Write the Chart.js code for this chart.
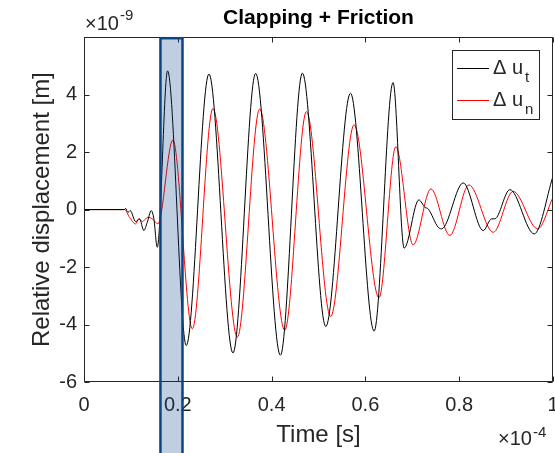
<!DOCTYPE html>
<html>
<head>
<meta charset="utf-8">
<script src="https://cdn.jsdelivr.net/npm/chart.js@4"></script>
<style>
  html, body { margin: 0; padding: 0; background: #fff; }
  #wrap { width: 555px; height: 453px; }
</style>
</head>
<body>
<div id="wrap"><canvas id="chart"></canvas></div>
<script>
// time in units of 1e-4 s, displacement in units of 1e-9 m
const tT = [0, 0.0864, 0.0886, 0.0935, 0.0986, 0.110, 0.1185, 0.1276, 0.1349, 0.1434, 0.149, 0.1562,
  0.1782, 0.218, 0.2664, 0.3176, 0.366, 0.4188, 0.4657, 0.5155, 0.5682, 0.6186, 0.659, 0.6826,
  0.714, 0.7268, 0.7339, 0.7552, 0.7624, 0.8086, 0.8512, 0.869, 0.876, 0.908, 0.960, 1.0];
const uT = [0, 0, 0.045, -0.094, -0.035, -0.417, -0.323, -0.730, -0.441, -0.035, -0.323, -1.31,
  4.83, -4.73, 4.72, -4.99, 4.74, -5.07, 4.75, -4.07, 4.05, -4.23, 4.42, -1.34,
  0.337, 0.08, 0.024, -0.615, -0.67, 0.928, -0.73, -0.323, -0.32, 0.695, -0.845, 1.16];

const tN = [0, 0.0864, 0.0971, 0.110, 0.117, 0.1242, 0.1362, 0.1456, 0.1575,
  0.1895, 0.231, 0.275, 0.327, 0.3746, 0.428, 0.4743, 0.526, 0.5759, 0.629, 0.6649,
  0.7018, 0.7396, 0.780, 0.8207, 0.8726, 0.915, 0.9674, 1.0];
const uN = [0, 0, -0.268, -0.497, -0.323, -0.417, -0.268, -0.323, -0.497,
  2.42, -4.15, 3.52, -4.44, 3.50, -4.20, 3.41, -3.72, 2.95, -3.07, 2.19,
  -1.23, 0.72, -0.90, 0.86, -0.79, 0.636, -0.67, 0.427];

const xTicks = [0, 0.2, 0.4, 0.6, 0.8, 1];
const yTicks = [-6, -4, -2, 0, 2, 4];
const highlight = [0.163, 0.21]; // shaded time window

const seriesNames = ["t", "n"];
const seriesColors = ["#000000", "#ff0000"];

const axisColor = "#262626";
const font = "'Liberation Sans', Arial, Helvetica, sans-serif";

const toPoints = (xs, ys) => xs.map((x, i) => ({ x: x, y: ys[i] }));

// box, inward ticks, legend, exponents, shaded window
const decorations = {
  id: "decorations",
  afterDraw(chart) {
    const ctx = chart.ctx;
    const a = chart.chartArea;
    const xs = chart.scales.x;
    const ys = chart.scales.y;
    const L = Math.round(a.left) + 0.5, R = Math.round(a.right) - 0.5;
    const T = Math.round(a.top) + 0.5, B = Math.round(a.bottom) - 0.5;
    const tick = 5;

    ctx.save();
    ctx.strokeStyle = axisColor;
    ctx.lineWidth = 1;
    ctx.strokeRect(L, T, R - L, B - T);
    ctx.beginPath();
    xTicks.forEach(v => {
      const px = Math.round(xs.getPixelForValue(v)) + 0.5;
      ctx.moveTo(px, B); ctx.lineTo(px, B - tick);
      ctx.moveTo(px, T); ctx.lineTo(px, T + tick);
    });
    yTicks.forEach(v => {
      const py = Math.round(ys.getPixelForValue(v)) + 0.5;
      ctx.moveTo(L, py); ctx.lineTo(L + tick, py);
      ctx.moveTo(R, py); ctx.lineTo(R - tick, py);
    });
    ctx.stroke();

    // legend
    const lx = 452.5, ly = 50.5, lw = 87, lh = 69;
    ctx.fillStyle = "#fff";
    ctx.fillRect(lx, ly, lw, lh);
    ctx.strokeStyle = axisColor;
    ctx.strokeRect(lx, ly, lw, lh);
    seriesNames.forEach((name, i) => {
      const y = 68.5 + i * 32;
      ctx.strokeStyle = seriesColors[i];
      ctx.beginPath();
      ctx.moveTo(457, y); ctx.lineTo(489, y);
      ctx.stroke();
      ctx.fillStyle = axisColor;
      ctx.textAlign = "left";
      ctx.textBaseline = "alphabetic";
      ctx.font = "20px " + font;
      const main = "\u0394 u";
      ctx.fillText(main, 493, y + 5);
      const w = ctx.measureText(main).width;
      ctx.font = "15px " + font;
      ctx.fillText(name, 493 + w + 2, y + 13);
    });

    // exponent labels
    ctx.fillStyle = axisColor;
    ctx.textAlign = "left";
    ctx.textBaseline = "alphabetic";
    ctx.font = "20px " + font;
    ctx.fillText("\u00d710", 85, 30);
    let w = ctx.measureText("\u00d710").width;
    ctx.font = "15px " + font;
    ctx.fillText("-9", 85 + w + 1, 20);

    ctx.font = "20px " + font;
    ctx.fillText("\u00d710", 498, 445);
    w = ctx.measureText("\u00d710").width;
    ctx.font = "15px " + font;
    ctx.fillText("-4", 498 + w + 1, 437);

    // shaded window, on top and running past the axis to the bottom edge
    const x0 = xs.getPixelForValue(highlight[0]);
    const x1 = xs.getPixelForValue(highlight[1]);
    ctx.fillStyle = "rgba(0, 60, 130, 0.25)";
    ctx.fillRect(x0, a.top, x1 - x0, chart.height - a.top + 5);
    ctx.strokeStyle = "#0b4582";
    ctx.lineWidth = 2.5;
    ctx.strokeRect(x0, a.top + 1, x1 - x0, chart.height - a.top + 5);
    ctx.restore();
  }
};

new Chart(document.getElementById("chart"), {
  type: "line",
  data: {
    datasets: [
      {
        data: toPoints(tT, uT),
        borderColor: seriesColors[0],
        borderWidth: 1,
        pointRadius: 0,
        cubicInterpolationMode: "monotone",
      },
      {
        data: toPoints(tN, uN),
        borderColor: seriesColors[1],
        borderWidth: 1,
        pointRadius: 0,
        cubicInterpolationMode: "monotone",
      },
    ],
  },
  options: {
    responsive: true,
    maintainAspectRatio: false,
    animation: false,
    layout: { padding: { left: 0, right: 2, top: 0, bottom: 0 } },
    plugins: {
      legend: { display: false },
      tooltip: { enabled: false },
      title: {
        display: true,
        fullSize: false, // center over the plot area, like MATLAB
        text: "Clapping + Friction",
        color: "#000",
        font: { family: font, size: 21, weight: "bold" },
        padding: { top: 6, bottom: 6 },
      },
    },
    scales: {
      x: {
        type: "linear",
        min: 0,
        max: 1,
        grid: { display: false, drawTicks: false },
        border: { display: false },
        afterBuildTicks: s => { s.ticks = xTicks.map(v => ({ value: v })); },
        afterFit: s => {
          s.height = 71;
          s.paddingLeft = 0;
          s.paddingRight = 0;
        },
        ticks: {
          color: axisColor,
          font: { family: font, size: 20 },
          padding: 11,
          maxRotation: 0,
          callback: v => String(Number(v.toFixed(1))),
        },
        title: {
          display: true,
          text: "Time [s]",
          color: axisColor,
          font: { family: font, size: 24 },
          padding: { top: 0, bottom: 3 },
        },
      },
      y: {
        min: -6,
        max: 6,
        grid: { display: false, drawTicks: false },
        border: { display: false },
        afterBuildTicks: s => { s.ticks = yTicks.map(v => ({ value: v })); },
        afterFit: s => {
          s.width = 84;
          s.paddingTop = 0;
          s.paddingBottom = 0;
        },
        ticks: {
          color: axisColor,
          font: { family: font, size: 20 },
          padding: 7,
        },
        title: {
          display: true,
          text: "Relative displacement [m]",
          color: axisColor,
          font: { family: font, size: 24 },
          padding: { top: 28, bottom: 0 },
        },
      },
    },
  },
  plugins: [decorations],
});
</script>
</body>
</html>
